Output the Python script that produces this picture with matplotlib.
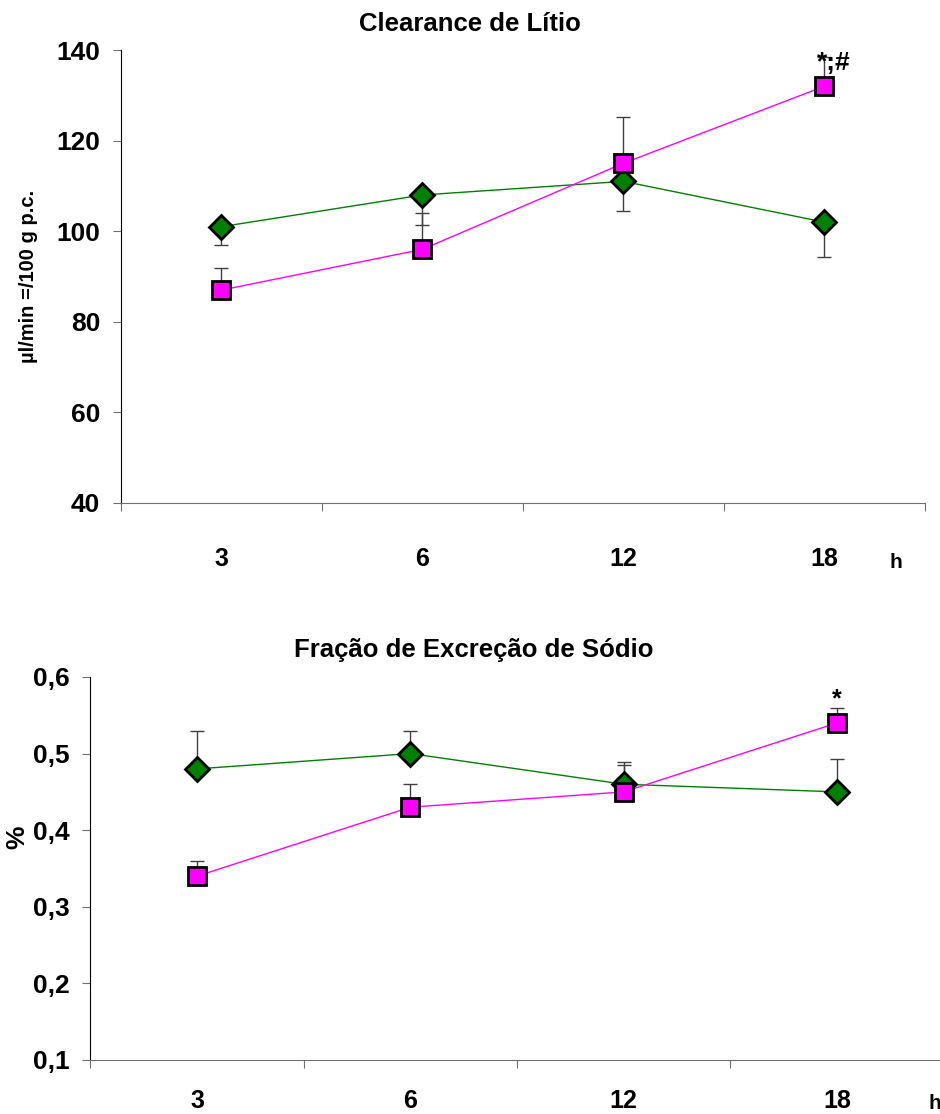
import matplotlib
matplotlib.use('Agg')
import matplotlib.pyplot as plt

plt.rcParams['font.family'] = ['Liberation Sans', 'DejaVu Sans']
plt.rcParams['font.weight'] = 'bold'

hours = ['3', '6', '12', '18']

# Clearance de Litio (ul/min/100 g p.c.)
lit_green = [101, 108, 111, 102]
lit_green_err = [4, 6.6, 6.6, 7.8]
lit_mag = [87, 96, 115, 132]
lit_mag_err = [4.8, 8, 10.3, 6.4]
lit_yticks = [40, 60, 80, 100, 120, 140]

# Fracao de excrecao de sodio (%)
sod_green = [0.48, 0.50, 0.46, 0.45]
sod_green_err = [0.05, 0.03, 0.029, 0.043]
sod_mag = [0.34, 0.43, 0.45, 0.54]
sod_mag_err = [0.02, 0.03, 0.035, 0.02]
sod_yticks = [0.1, 0.2, 0.3, 0.4, 0.5, 0.6]

GREEN = '#008000'
MAGENTA = '#FF00FF'
ERRC = '#404040'


def style_axis(ax, ylim, yticks, ylabels, xpad):
    xs = list(range(len(hours)))
    ax.set_xlim(-0.5, len(hours) - 0.5)
    ax.set_ylim(*ylim)
    ax.spines['top'].set_visible(False)
    ax.spines['right'].set_visible(False)
    ax.spines['left'].set_color('black')
    ax.spines['bottom'].set_color('#707070')
    ax.set_xticks([x - 0.5 for x in xs] + [len(hours) - 0.5])
    ax.set_xticklabels([])
    ax.set_xticks(xs, minor=True)
    ax.set_xticklabels(hours, minor=True)
    ax.tick_params(axis='x', which='major', direction='out', length=6,
                   color='#707070')
    ax.tick_params(axis='x', which='minor', length=0, pad=xpad, labelsize=18)
    ax.set_yticks(yticks)
    ax.set_yticklabels(ylabels)
    ax.tick_params(axis='y', direction='out', length=6, color='#707070',
                   pad=9, labelsize=19)
    for lab in ax.get_xticklabels(minor=True) + ax.get_yticklabels():
        lab.set_fontweight('bold')


def draw_series(ax, vals, errs, color, marker, ms, lower):
    xs = list(range(len(vals)))
    if lower:
        yerr = [errs, [0] * len(errs)]
    else:
        yerr = [[0] * len(errs), errs]
    ax.errorbar(xs, vals, yerr=yerr, fmt='none', ecolor=ERRC, elinewidth=1,
                capsize=5, capthick=1, zorder=2)
    ax.plot(xs, vals, color=color, lw=1, marker=marker, ms=ms,
            markerfacecolor=color, markeredgecolor='black',
            markeredgewidth=2, zorder=3)


fig = plt.figure(figsize=(9.4, 11.14), dpi=100)

# top chart
ax1 = fig.add_axes([0.1287, 0.5485, 0.9840 - 0.1287, 0.9551 - 0.5485])
draw_series(ax1, lit_green, lit_green_err, GREEN, 'D', 12.5, True)
draw_series(ax1, lit_mag, lit_mag_err, MAGENTA, 's', 13.5, False)
style_axis(ax1, (40, 140), lit_yticks, [str(v) for v in lit_yticks], 32)
fig.text(0.500, 0.9785, 'Clearance de Lítio', fontsize=18.5, fontweight='bold',
         ha='center', va='center')
fig.text(0.030, 0.7517, 'µl/min =/100 g p.c.', rotation=90, fontsize=14.5,
         fontweight='bold', ha='center', va='center')
fig.text(0.953, 0.4955, 'h', fontsize=15, fontweight='bold',
         ha='center', va='center')
ax1.annotate('*;#', (3, lit_mag[3]), xytext=(7, 17), textcoords='offset points',
             ha='center', va='center', fontsize=19, fontweight='bold')

# bottom chart
ax2 = fig.add_axes([0.0961, 0.0485, 1.004 - 0.0961, 0.3923 - 0.0485])
draw_series(ax2, sod_green, sod_green_err, GREEN, 'D', 12.5, False)
draw_series(ax2, sod_mag, sod_mag_err, MAGENTA, 's', 13.5, False)
style_axis(ax2, (0.1, 0.6), sod_yticks,
           [('%.1f' % v).replace('.', ',') for v in sod_yticks], 21)
fig.text(0.504, 0.4165, 'Fração de Excreção de Sódio', fontsize=18.5,
         fontweight='bold', ha='center', va='center')
fig.text(0.019, 0.2488, '%', rotation=90, fontsize=19, fontweight='bold',
         ha='center', va='center')
fig.text(0.995, 0.0095, 'h', fontsize=15, fontweight='bold',
         ha='center', va='center')
ax2.annotate('*', (3, sod_mag[3] + sod_mag_err[3]), xytext=(0, -3),
             textcoords='offset points', ha='center', va='bottom',
             fontsize=18, fontweight='bold')

fig.savefig('out.png', dpi=100)
